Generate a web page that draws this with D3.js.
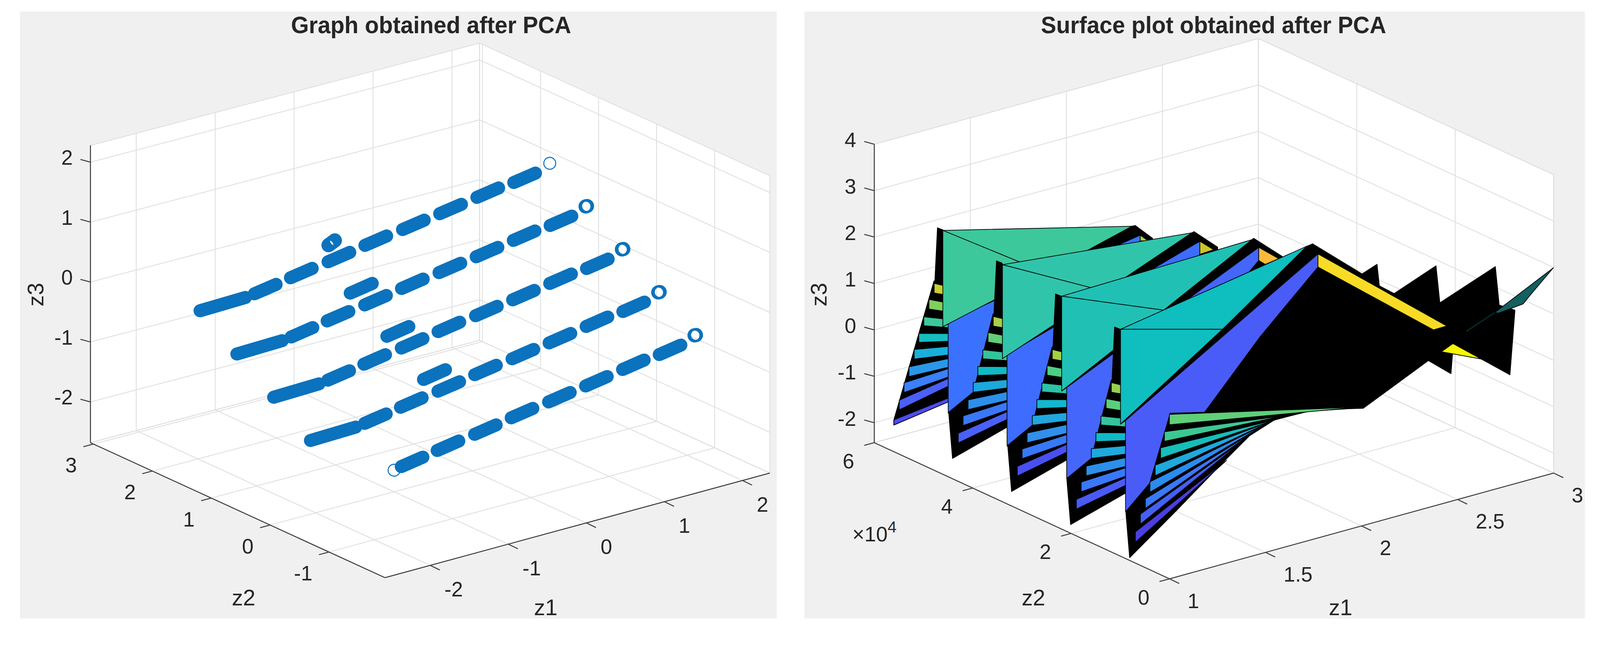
<!DOCTYPE html>
<html>
<head>
<meta charset="utf-8">
<script src="https://cdn.jsdelivr.net/npm/d3@7/dist/d3.min.js"></script>
<style>
	html, body { margin: 0; padding: 0; background: #fff; overflow: hidden; }
	text { font-family: "Liberation Sans", Arial, sans-serif; fill: #262626; }
</style>
</head>
<body>
<script>

// ---- left chart: scatter, one row per z2 level ----

var rowZ2 = [ 1.25, 0.625, 0, -0.625, -1.25 ];

var dashZ1Low = [ -1.843, -1.384, -0.906, -0.437, 0.041, 0.514, 0.987, 1.456 ];
var dashZ1High = [ -1.567, -1.108, -0.630, -0.161, 0.317, 0.790, 1.263, 1.732 ];

var dashZ3Low = [
	[ 0.358, 0.465, 0.565, 0.675, 0.772, 0.871, 0.979, 1.063 ],
	[ -0.082, 0.025, 0.125, 0.235, 0.332, 0.431, 0.539, 0.623 ],
	[ -0.522, -0.415, -0.315, -0.205, -0.108, -0.009, 0.099, 0.183 ],
	[ -0.962, -0.855, -0.755, -0.645, -0.548, -0.449, -0.341, -0.257 ],
	[ -1.402, -1.295, -1.195, -1.085, -0.988, -0.889, -0.781, -0.697 ]
];
var dashZ3High = [
	[ 0.418, 0.525, 0.625, 0.735, 0.832, 0.931, 1.039, 1.123 ],
	[ -0.022, 0.085, 0.185, 0.295, 0.392, 0.491, 0.599, 0.683 ],
	[ -0.462, -0.355, -0.255, -0.145, -0.048, 0.051, 0.159, 0.243 ],
	[ -0.902, -0.795, -0.695, -0.585, -0.488, -0.389, -0.281, -0.197 ],
	[ -1.342, -1.235, -1.135, -1.025, -0.928, -0.829, -0.721, -0.637 ]
];

// z1, z2, z3 at both ends of the runs that sit outside the regular dashes
var tailRuns = [
	[ -2.534, 1.25, 0.316, -1.957, 1.25, 0.336 ],
	[ -2.534, 0.625, -0.124, -1.957, 0.625, -0.104 ],
	[ -2.534, 0, -0.564, -1.957, 0, -0.544 ],
	[ -2.534, -0.625, -1.004, -1.957, -0.625, -0.984 ]
];
var extraRuns = [
	[ -1.09, 0.625, 0.386, -0.81, 0.625, 0.450 ],
	[ -1.09, 0, -0.054, -0.81, 0, 0.010 ],
	[ -1.09, -0.625, -0.494, -0.81, -0.625, -0.430 ]
];

// open markers: the thin one at the top row end, the pairs that overlap, the start of the front row
var thinPoints = [
	[ 1.914, 1.25, 1.223 ],
	[ -1.935, -1.25, -1.43 ]
];
var thickPoints = [
	[ 1.908, 0.625, 0.783 ], [ 1.925, 0.625, 0.783 ],
	[ 1.908, 0, 0.343 ], [ 1.925, 0, 0.343 ],
	[ 1.908, -0.625, -0.097 ], [ 1.925, -0.625, -0.097 ],
	[ 1.908, -1.25, -0.537 ], [ 1.925, -1.25, -0.537 ],
	[ -0.90, 1.25, 0.840 ], [ -0.88, 1.25, 0.852 ], [ -0.86, 1.25, 0.865 ], [ -0.84, 1.25, 0.878 ], [ -0.82, 1.25, 0.890 ]
];

// ---- right chart: surface sheets, front sheet last ----

var sheetZ2 = [ 5.7, 4.5, 3.3, 2.1, 0.9 ];
var sheetZ3Shift = [ 0.504, 0.378, 0.252, 0.126, 0 ];

// strips of the back sheets, [ z1, z3 ] left top, right top, right bottom, left bottom
var ladderStrips = [
	[ [ 1.235, 0.377 ], [ 1.315, 0.207 ], [ 1.315, 0.024 ], [ 1.235, 0.170 ] ],
	[ [ 1.208, 0.062 ], [ 1.315, -0.145 ], [ 1.315, -0.333 ], [ 1.208, -0.145 ] ],
	[ [ 1.181, -0.281 ], [ 1.315, -0.494 ], [ 1.315, -0.668 ], [ 1.181, -0.474 ] ],
	[ [ 1.155, -0.610 ], [ 1.315, -0.795 ], [ 1.315, -0.961 ], [ 1.155, -0.804 ] ],
	[ [ 1.131, -0.929 ], [ 1.315, -1.072 ], [ 1.315, -1.252 ], [ 1.131, -1.136 ] ],
	[ [ 1.104, -1.272 ], [ 1.315, -1.329 ], [ 1.315, -1.515 ], [ 1.104, -1.480 ] ],
	[ [ 1.078, -1.588 ], [ 1.315, -1.542 ], [ 1.315, -1.722 ], [ 1.078, -1.795 ] ],
	[ [ 1.053, -1.933 ], [ 1.315, -1.750 ], [ 1.315, -1.915 ], [ 1.053, -2.140 ] ]
];
var ladderLastStrip = [ [ 1.025, -2.325 ], [ 1.315, -2.173 ], [ 1.315, -2.256 ], [ 1.025, -2.435 ] ];
var ladderBackFirst = [ [ 1.234, 0.431 ], [ 1.315, 0.300 ], [ 1.315, -2.256 ], [ 1.025, -2.435 ], [ 1.025, -2.325 ] ];
var ladderBack = [ [ 1.234, 0.431 ], [ 1.315, 0.300 ], [ 1.315, -2.081 ], [ 1.023, -2.441 ], [ 1.003, -1.422 ], [ 1.131, -1.136 ] ];
var spine = [ [ 1.252, 1.556 ], [ 1.282, 1.472 ], [ 1.282, -0.569 ], [ 1.238, 0.385 ] ];

// the fan at the front sheet, left top, left bottom, far tip
var fanStrips = [
	[ [ 1.230, 0.411 ], [ 1.230, 0.187 ], [ 2.214, -0.554 ] ],
	[ [ 1.204, 0.067 ], [ 1.204, -0.140 ], [ 1.821, -0.297 ] ],
	[ [ 1.184, -0.258 ], [ 1.184, -0.482 ], [ 1.781, -0.335 ] ],
	[ [ 1.156, -0.600 ], [ 1.156, -0.824 ], [ 1.755, -0.346 ] ],
	[ [ 1.129, -0.927 ], [ 1.129, -1.151 ], [ 1.725, -0.379 ] ],
	[ [ 1.105, -1.265 ], [ 1.105, -1.472 ], [ 1.665, -0.476 ] ],
	[ [ 1.079, -1.567 ], [ 1.079, -1.783 ], [ 1.604, -0.614 ] ],
	[ [ 1.053, -1.919 ], [ 1.053, -2.143 ], [ 1.528, -0.918 ] ]
];
var fanBack = [
	[ 1.234, 0.431 ], [ 2.224, -0.583 ], [ 1.955, -0.351 ], [ 1.889, -0.342 ], [ 1.775, -0.335 ],
	[ 1.648, -0.524 ], [ 1.520, -0.908 ], [ 1.268, -1.699 ], [ 1.023, -2.441 ], [ 1.003, -1.422 ], [ 1.127, -0.958 ]
];

var ladderColors = [
	[ "#c9cf2f", "#7ed05e", "#3cc79a", "#18bcbf", "#18b0da", "#2a98e8", "#3a80fa", "#4a60f8" ],
	[ "#abcf45", "#62cf78", "#35c49a", "#0fbac4", "#1ba8dc", "#2c8fea", "#3a78fa", "#4a60f8" ],
	[ "#a4d043", "#4dcf82", "#2cc3a6", "#12b8cc", "#22a5de", "#3090ec", "#3878f8", "#4a50f0" ],
	[ "#98cf50", "#5acf7a", "#33c49e", "#0fbac8", "#1fa9dc", "#2c8fea", "#3a78fa", "#4a5af5" ]
];
var fanColors = [ "#5fcf78", "#3cc892", "#16bdb9", "#1fa9dc", "#2b8cf0", "#3a78f8", "#4560f2", "#4a3fe0" ];

var panelColors = [ "#3a72ff", "#3d6cff", "#4466fa", "#4a5cf8" ];
var tealColors = [ "#3cc89b", "#30c5aa", "#20c1b4", "#0fbebe" ];
var chipColors = [ "#a9cf45", "#cdc42a", "#fdb93a", "#f7db26" ];

var teeLeft = [ [ 1.280, 1.971 ], [ 1.283, 1.816 ], [ 1.284, 1.722 ], [ 1.283, 1.597 ] ];
var teeBottom = [ [ 1.280, -0.104 ], [ 1.283, -0.209 ], [ 1.284, -0.320 ], [ 1.283, -0.445 ] ];
var teeMiddle = [ [ 1.817, 0.445 ], [ 1.816, 0.635 ], [ 1.815, 0.816 ], [ 1.814, 0.991 ] ];
var teePeak = [ [ 2.264, 0.939 ], [ 2.269, 1.379 ], [ 2.274, 1.811 ], [ 2.253, 2.282 ] ];
var blackPeak = [ [ 2.282, 0.935 ], [ 2.281, 1.391 ], [ 2.284, 1.830 ], [ 2.283, 2.298 ] ];
var bluePeak = [ [ 2.308, 0.698 ], [ 2.311, 1.149 ], [ 2.310, 1.605 ], [ 2.311, 2.050 ] ];
var panelTop = [ [ 1.308, -0.020 ], [ 1.307, -0.145 ], [ 1.310, -0.275 ], [ 1.309, -0.400 ] ];
var panelBottom = [ [ 1.308, -1.995 ], [ 1.307, -2.120 ], [ 1.310, -2.233 ], [ 1.309, -2.359 ] ];

var panelRightEdge = [
	[ [ 2.308, 0.573 ], [ 1.544, -1.086 ], [ 1.434, -1.791 ] ],
	[ [ 2.311, 0.867 ], [ 1.543, -1.212 ], [ 1.433, -1.915 ] ],
	[ [ 2.310, 1.323 ], [ 2.260, 1.131 ], [ 1.542, -1.337 ], [ 1.432, -2.041 ] ],
	[ [ 2.311, 1.768 ], [ 2.010, 0.609 ], [ 1.718, -0.701 ], [ 1.541, -1.462 ], [ 1.431, -2.166 ] ]
];
var wings = [
	[ [ 2.282, 0.935 ], [ 2.372, 0.558 ], [ 2.384, -0.037 ], [ 2.223, 0.063 ] ],
	[ [ 2.281, 1.391 ], [ 2.403, 0.919 ], [ 2.417, 0.347 ], [ 2.256, 0.447 ] ],
	[ [ 2.284, 1.830 ], [ 2.434, 1.264 ], [ 2.450, 0.648 ], [ 2.260, 1.031 ] ]
];
var chips = [
	[ [ 2.308, 0.698 ], [ 2.350, 0.525 ], [ 2.308, 0.573 ] ],
	[ [ 2.311, 1.149 ], [ 2.383, 0.884 ], [ 2.311, 0.867 ] ],
	[ [ 2.310, 1.605 ], [ 2.414, 1.245 ], [ 2.344, 1.201 ], [ 2.310, 1.323 ] ],
	[ [ 2.311, 2.050 ], [ 2.982, -0.268 ], [ 2.912, -0.271 ], [ 2.311, 1.768 ] ]
];

// big black part behind the front sheet, at z2 = 0.2
var wakeZ2 = 0.2;
var wake = [
	[ 1.796, 3.784 ], [ 2.054, 2.841 ], [ 2.132, 2.960 ], [ 2.144, 2.481 ], [ 2.221, 2.228 ],
	[ 2.439, 2.577 ], [ 2.459, 1.757 ], [ 2.748, 2.207 ], [ 2.768, 1.355 ], [ 2.850, 1.153 ],
	[ 2.824, -0.211 ], [ 2.674, 0.301 ], [ 2.525, 0.586 ], [ 2.517, 0.163 ], [ 2.399, 0.581 ],
	[ 2.060, -0.062 ], [ 1.237, 0.787 ]
];
var yellowPatch = [ [ 2.527, 0.800 ], [ 2.467, 0.694 ], [ 2.674, 0.301 ] ];

// thin corner piece at z2 = 0
var cornerPatch = [ [ 2.694, 1.379 ], [ 2.999, 1.994 ], [ 2.885, 1.568 ], [ 2.841, 1.395 ], [ 2.712, 1.342 ] ];
var cornerTail = [ [ 2.546, 1.142 ], [ 2.694, 1.379 ] ];

// ---- axes ----

var leftZ1Ticks = [ -2, -1, 0, 1, 2 ];
var leftZ2Ticks = [ -1, 0, 1, 2, 3 ];
var leftZ3Ticks = [ -2, -1, 0, 1, 2 ];
var rightZ1Ticks = [ 1, 1.5, 2, 2.5, 3 ];
var rightZ2Ticks = [ 0, 2, 4, 6 ];
var rightZ3Ticks = [ -2, -1, 0, 1, 2, 3, 4 ];

var blue = "#0b72bd";

var svg = d3.select( "body" ).append( "svg" )
	.attr( "viewBox", "0 0 4157 1655" )
	.style( "width", "100vw" )
	.style( "height", "auto" )
	.style( "display", "block" );

function makeView( o ) {

	var u = d3.scaleLinear().domain( o.z1Domain ).range( [ 0, 1 ] );
	var v = d3.scaleLinear().domain( o.z2Domain ).range( [ 0, 1 ] );
	var w = d3.scaleLinear().domain( o.z3Domain ).range( [ 0, o.height ] );
	var skew = o.skew || [ 0, 0 ];

	o.project = function( a, b, c ) {

		return [
			o.front[ 0 ] + u( a ) * ( o.right[ 0 ] - o.front[ 0 ] ) + v( b ) * ( o.left[ 0 ] - o.front[ 0 ] ) + u( a ) * v( b ) * skew[ 0 ],
			o.front[ 1 ] + u( a ) * ( o.right[ 1 ] - o.front[ 1 ] ) + v( b ) * ( o.left[ 1 ] - o.front[ 1 ] ) + u( a ) * v( b ) * skew[ 1 ] - w( c )
		];

	};

	return o;

}

function drawFrame( view ) {

	var g = svg.append( "g" );
	var p = view.project;
	var z1 = view.z1Domain, z2 = view.z2Domain, z3 = view.z3Domain;
	var line = d3.line();

	g.append( "rect" )
		.attr( "x", view.panel[ 0 ] ).attr( "y", view.panel[ 1 ] )
		.attr( "width", view.panel[ 2 ] ).attr( "height", view.panel[ 3 ] )
		.attr( "fill", "#f0f0f0" );

	g.append( "path" )
		.attr( "d", line( [
			p( z1[ 0 ], z2[ 1 ], z3[ 0 ] ), p( z1[ 0 ], z2[ 1 ], z3[ 1 ] ), p( z1[ 1 ], z2[ 1 ], z3[ 1 ] ),
			p( z1[ 1 ], z2[ 0 ], z3[ 1 ] ), p( z1[ 1 ], z2[ 0 ], z3[ 0 ] ), p( z1[ 0 ], z2[ 0 ], z3[ 0 ] )
		] ) + "Z" )
		.attr( "fill", "#fff" );

	var grid = [];

	view.z1Ticks.concat( z1 ).forEach( function( t ) {

		grid.push( [ p( t, z2[ 0 ], z3[ 0 ] ), p( t, z2[ 1 ], z3[ 0 ] ), p( t, z2[ 1 ], z3[ 1 ] ) ] );

	} );

	view.z2Ticks.concat( z2 ).forEach( function( t ) {

		grid.push( [ p( z1[ 0 ], t, z3[ 0 ] ), p( z1[ 1 ], t, z3[ 0 ] ), p( z1[ 1 ], t, z3[ 1 ] ) ] );

	} );

	view.z3Ticks.concat( z3 ).forEach( function( t ) {

		grid.push( [ p( z1[ 0 ], z2[ 1 ], t ), p( z1[ 1 ], z2[ 1 ], t ), p( z1[ 1 ], z2[ 0 ], t ) ] );

	} );

	g.selectAll( ".grid" ).data( grid ).enter().append( "path" )
		.attr( "d", line )
		.attr( "fill", "none" )
		.attr( "stroke", "#dfdfdf" )
		.attr( "stroke-width", 2.2 );

}

function drawAxes( view ) {

	var g = svg.append( "g" );
	var p = view.project;
	var z1 = view.z1Domain, z2 = view.z2Domain, z3 = view.z3Domain;
	var line = d3.line();
	var ink = "#404040";

	[
		[ p( z1[ 0 ], z2[ 0 ], z3[ 0 ] ), p( z1[ 1 ], z2[ 0 ], z3[ 0 ] ) ],
		[ p( z1[ 0 ], z2[ 0 ], z3[ 0 ] ), p( z1[ 0 ], z2[ 1 ], z3[ 0 ] ) ],
		[ p( z1[ 0 ], z2[ 1 ], z3[ 0 ] ), p( z1[ 0 ], z2[ 1 ], z3[ 1 ] ) ]
	].forEach( function( seg ) {

		g.append( "path" ).attr( "d", line( seg ) ).attr( "stroke", ink ).attr( "stroke-width", 2.6 ).attr( "fill", "none" );

	} );

	function tick( a, dx, dy ) {

		g.append( "path" ).attr( "d", line( [ a, [ a[ 0 ] + dx, a[ 1 ] + dy ] ] ) )
			.attr( "stroke", ink ).attr( "stroke-width", 2.6 );

	}

	function label( a, s, anchor, dx, dy ) {

		g.append( "text" )
			.attr( "x", a[ 0 ] + dx ).attr( "y", a[ 1 ] + dy )
			.attr( "text-anchor", anchor )
			.attr( "dominant-baseline", "central" )
			.attr( "font-size", 54 )
			.text( s );

	}

	view.z1Ticks.forEach( function( t ) {

		var a = p( t, z2[ 0 ], z3[ 0 ] );
		tick( a, 25, 12 );
		label( a, t, "start", view.z1Label[ 0 ], view.z1Label[ 1 ] );

	} );

	view.z2Ticks.forEach( function( t ) {

		var a = p( z1[ 0 ], t, z3[ 0 ] );
		tick( a, -26, 7 );
		label( a, t, "end", view.z2Label[ 0 ], view.z2Label[ 1 ] );

	} );

	view.z3Ticks.forEach( function( t ) {

		var a = p( z1[ 0 ], z2[ 1 ], t );
		tick( a, -26, -7 );
		label( a, t, "end", view.z3Label[ 0 ], view.z3Label[ 1 ] );

	} );

	view.names.forEach( function( n ) {

		g.append( "text" )
			.attr( "text-anchor", "middle" )
			.attr( "dominant-baseline", "central" )
			.attr( "font-size", 58 )
			.attr( "transform", "translate(" + n.at + ")" + ( n.turn ? " rotate(-90)" : "" ) )
			.text( n.text );

	} );

	g.append( "text" )
		.attr( "x", view.title.x ).attr( "y", view.title.y )
		.attr( "text-anchor", "middle" )
		.attr( "dominant-baseline", "central" )
		.attr( "font-size", 62 )
		.attr( "font-weight", "bold" )
		.attr( "fill", "#111" )
		.attr( "textLength", view.title.width )
		.attr( "lengthAdjust", "spacingAndGlyphs" )
		.text( view.title.text );

}

// ---- left view ----

var leftView = makeView( {
	panel: [ 52, 30, 1966, 1578 ],
	front: [ 1000, 1502 ],
	right: [ 2000, 1230 ],
	left: [ 235, 1151 ],
	skew: [ 11, 6 ],
	height: 773,
	z1Domain: [ -2.58, 2.35 ],
	z2Domain: [ -1.95, 3.05 ],
	z3Domain: [ -2.68, 2.28 ],
	z1Ticks: leftZ1Ticks,
	z2Ticks: leftZ2Ticks,
	z3Ticks: leftZ3Ticks,
	z1Label: [ 37, 62 ],
	z2Label: [ -43, 55 ],
	z3Label: [ -46, -12 ],
	names: [
		{ text: "z1", at: [ 1418, 1579 ] },
		{ text: "z2", at: [ 633, 1554 ] },
		{ text: "z3", at: [ 92, 766 ], turn: true }
	],
	title: { text: "Graph obtained after PCA", x: 1120, y: 65, width: 728 }
} );

drawFrame( leftView );

var scatter = svg.append( "g" );
var runs = [];

rowZ2.forEach( function( z2, r ) {

	dashZ1Low.forEach( function( low, i ) {

		runs.push( [ low, z2, dashZ3Low[ r ][ i ], dashZ1High[ i ], z2, dashZ3High[ r ][ i ] ] );

	} );

} );

runs = runs.concat( tailRuns, extraRuns );

scatter.selectAll( ".run" ).data( runs ).enter().append( "path" )
	.attr( "d", function( d ) {

		return d3.line()( [ leftView.project( d[ 0 ], d[ 1 ], d[ 2 ] ), leftView.project( d[ 3 ], d[ 4 ], d[ 5 ] ) ] );

	} )
	.attr( "stroke", blue )
	.attr( "stroke-width", 34 )
	.attr( "stroke-linecap", "round" )
	.attr( "fill", "none" );

function drawOpen( points, width ) {

	scatter.selectAll( null ).data( points ).enter().append( "circle" )
		.attr( "cx", function( d ) { return leftView.project( d[ 0 ], d[ 1 ], d[ 2 ] )[ 0 ]; } )
		.attr( "cy", function( d ) { return leftView.project( d[ 0 ], d[ 1 ], d[ 2 ] )[ 1 ]; } )
		.attr( "r", 15.5 )
		.attr( "fill", "none" )
		.attr( "stroke", blue )
		.attr( "stroke-width", width );

}

drawOpen( thinPoints, 2.6 );
drawOpen( thickPoints, 6 );

drawAxes( leftView );

// ---- right view ----

var rightView = makeView( {
	panel: [ 2090, 30, 2028, 1578 ],
	front: [ 3038.5, 1505 ],
	right: [ 4036.5, 1230 ],
	left: [ 2271.5, 1151 ],
	height: 776,
	z1Domain: [ 1, 3 ],
	z2Domain: [ 0, 6 ],
	z3Domain: [ -2.43, 4 ],
	z1Ticks: rightZ1Ticks,
	z2Ticks: rightZ2Ticks,
	z3Ticks: rightZ3Ticks,
	z1Label: [ 47, 57 ],
	z2Label: [ -52, 48 ],
	z3Label: [ -47, -11 ],
	names: [
		{ text: "z1", at: [ 3483, 1579 ] },
		{ text: "z2", at: [ 2685, 1554 ] },
		{ text: "z3", at: [ 2127, 766 ], turn: true }
	],
	title: { text: "Surface plot obtained after PCA", x: 3153, y: 65, width: 897 }
} );

drawFrame( rightView );

var surface = svg.append( "g" );

function patch( points, z2, z3Shift, fill ) {

	var xy = points.map( function( d ) {

		return rightView.project( d[ 0 ], z2, d[ 1 ] + z3Shift );

	} );

	surface.append( "path" )
		.attr( "d", d3.line()( xy ) + "Z" )
		.attr( "fill", fill )
		.attr( "stroke", "#000" )
		.attr( "stroke-width", 1.8 )
		.attr( "stroke-linejoin", "round" );

}

function drawLadder( k ) {

	patch( k == 0 ? ladderBackFirst : ladderBack, sheetZ2[ k ], sheetZ3Shift[ k ], "#000" );
	patch( spine, sheetZ2[ k ], sheetZ3Shift[ k ], "#000" );

	ladderStrips.forEach( function( strip, i ) {

		patch( strip, sheetZ2[ k ], sheetZ3Shift[ k ], ladderColors[ k ][ i ] );

	} );

	if ( k == 0 ) {

		patch( ladderLastStrip, sheetZ2[ k ], sheetZ3Shift[ k ], "#4c4cf0" );

	}

}

d3.range( 4 ).forEach( function( k ) {

	drawLadder( k );

	var z2 = sheetZ2[ k ];

	if ( k < 3 ) {

		patch( wings[ k ], z2, 0, "#000" );

	} else {

		patch( wake, wakeZ2, 0, "#000" );

	}

	// black band along the ridge, then the blue face in front of it
	patch( [ teeBottom[ k ], teePeak[ k ], blackPeak[ k ], bluePeak[ k ], panelTop[ k ] ], z2, 0, "#000" );
	patch( [ panelTop[ k ], bluePeak[ k ] ].concat( panelRightEdge[ k ], [ panelBottom[ k ] ] ), z2, 0, panelColors[ k ] );
	patch( chips[ k ], z2, 0, chipColors[ k ] );

	patch( [ teeLeft[ k ], teePeak[ k ], teeMiddle[ k ] ], z2, 0, tealColors[ k ] );
	patch( [ teeLeft[ k ], teeMiddle[ k ], teeBottom[ k ] ], z2, 0, tealColors[ k ] );

} );

// front fan lies over the last blue face
patch( fanBack, sheetZ2[ 4 ], 0, "#000" );

fanStrips.forEach( function( strip, i ) {

	patch( strip, sheetZ2[ 4 ], 0, fanColors[ i ] );

} );

patch( yellowPatch, wakeZ2, 0, "#f8f800" );
patch( cornerPatch, 0, 0, "#12605f" );

surface.append( "path" )
	.attr( "d", d3.line()( cornerTail.map( function( d ) { return rightView.project( d[ 0 ], 0, d[ 1 ] ); } ) ) )
	.attr( "stroke", "#06302f" )
	.attr( "stroke-width", 3 );

drawAxes( rightView );

var multiplier = svg.append( "text" )
	.attr( "x", 2272 ).attr( "y", 1408 )
	.attr( "text-anchor", "middle" )
	.attr( "font-size", 54 );

multiplier.append( "tspan" ).text( "×10" );
multiplier.append( "tspan" ).attr( "dy", -24 ).attr( "font-size", 42 ).text( "4" );

</script>
</body>
</html>
